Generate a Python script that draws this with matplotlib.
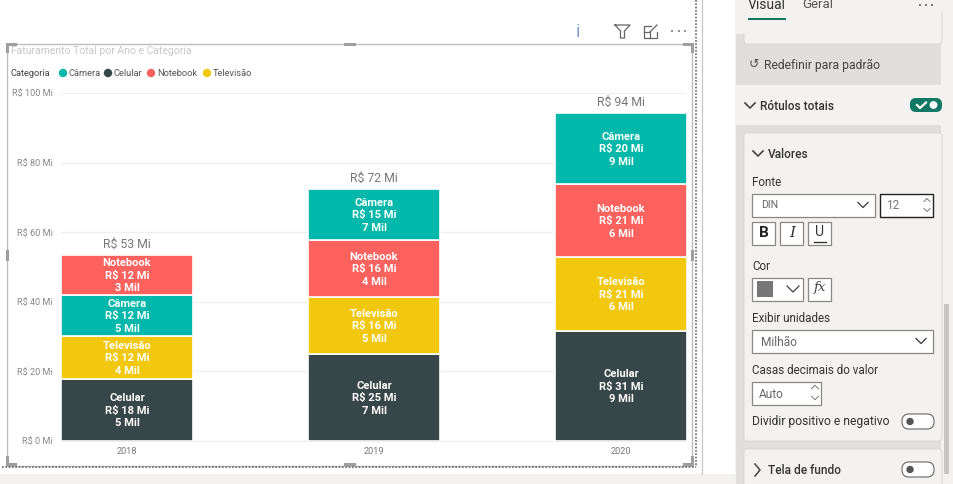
import matplotlib
matplotlib.use('Agg')
import matplotlib.pyplot as plt
from matplotlib.patches import Rectangle, FancyBboxPatch, Circle

# data
anos = ['2018', '2019', '2020']
categorias = ['Câmera', 'Celular', 'Notebook', 'Televisão']
cores = {'Câmera': '#01B8AA', 'Celular': '#374649', 'Notebook': '#FD625E', 'Televisão': '#F2C80F'}
ordem_2018 = ['Celular', 'Televisão', 'Câmera', 'Notebook']
ordem_2019 = ['Celular', 'Televisão', 'Notebook', 'Câmera']
ordem_2020 = ['Celular', 'Televisão', 'Notebook', 'Câmera']
fat_2018 = [17.8, 12.4, 11.8, 11.5]
fat_2019 = [25.0, 16.4, 16.4, 14.6]
fat_2020 = [31.6, 21.3, 21.0, 20.4]
qtd_2018 = ['5 Mil', '4 Mil', '5 Mil', '3 Mil']
qtd_2019 = ['7 Mil', '5 Mil', '4 Mil', '7 Mil']
qtd_2020 = ['9 Mil', '6 Mil', '6 Mil', '9 Mil']
lab_2018 = ['R$ 18 Mi', 'R$ 12 Mi', 'R$ 12 Mi', 'R$ 12 Mi']
lab_2019 = ['R$ 25 Mi', 'R$ 16 Mi', 'R$ 16 Mi', 'R$ 15 Mi']
lab_2020 = ['R$ 31 Mi', 'R$ 21 Mi', 'R$ 21 Mi', 'R$ 20 Mi']
totais = ['R$ 53 Mi', 'R$ 72 Mi', 'R$ 94 Mi']
yticks = [0, 20, 40, 60, 80, 100]
yticklabels = ['R$ 0 Mi', 'R$ 20 Mi', 'R$ 40 Mi', 'R$ 60 Mi', 'R$ 80 Mi', 'R$ 100 Mi']

W, H = 954, 484
plt.rcParams['font.family'] = ['Roboto', 'DejaVu Sans']
fig = plt.figure(figsize=(W / 100, H / 100), dpi=100, facecolor='white')

# overlay in pixel coords for the Power BI chrome
bg = fig.add_axes([0, 0, 1, 1], zorder=0)
bg.set_xlim(0, W)
bg.set_ylim(H, 0)
bg.axis('off')

# main chart
ax = fig.add_axes([61 / W, 1 - 441 / H, 626 / W, 348 / H], zorder=2)
ax.patch.set_alpha(0)
ax.set_xlim(-0.267, 2.267)
ax.set_ylim(0, 100)
for s in ax.spines.values():
    s.set_visible(False)
ax.spines['bottom'].set_visible(True)
ax.spines['bottom'].set_color('#EEEEEE')
ax.set_yticks(yticks)
ax.set_yticklabels(yticklabels, fontsize=6.6, color='#888888')
ax.set_xticks(range(3))
ax.set_xticklabels(anos, fontsize=6.6, color='#777777')
ax.tick_params(length=0, pad=4)
ax.tick_params(axis='y', pad=6)
ax.grid(axis='y', color='#F0F0F0', lw=1)
ax.set_axisbelow(True)

ordens = [ordem_2018, ordem_2019, ordem_2020]
fats = [fat_2018, fat_2019, fat_2020]
qtds = [qtd_2018, qtd_2019, qtd_2020]
labs = [lab_2018, lab_2019, lab_2020]
for i in range(3):
    base = 0
    for cat, v, q, l in zip(ordens[i], fats[i], qtds[i], labs[i]):
        ax.bar(i, v, 0.534, bottom=base, color=cores[cat], edgecolor='white', lw=1.2)
        ax.text(i, base + v / 2 - 0.2, cat + '\n' + l + '\n' + q, ha='center', va='center',
                color='white', fontsize=8, fontweight='bold', linespacing=1.3)
        base += v
    ax.text(i, base + 1.1, totais[i], ha='center', va='bottom', fontsize=8.8, color='#777777')

# visual frame
bg.add_patch(Rectangle((7.5, 43.5), 685, 422, fill=False, ec='#BDBDBD', lw=1))
for x, y, w, h in [(6, 43, 11, 3), (6, 43, 3, 10), (344, 43, 12, 3), (683, 43, 11, 3), (691, 43, 3, 10),
                   (6, 250, 3, 11), (691, 250, 3, 11), (6, 463, 11, 3), (6, 456, 3, 10), (344, 463, 12, 3),
                   (683, 463, 11, 3), (691, 456, 3, 10)]:
    bg.add_patch(Rectangle((x, y), w, h, color='#9E9E9E', lw=0))
bg.text(11, 50.5, 'Faturamento Total por Ano e Categoria', fontsize=7.5, color='#C8C8C8', va='center')

# legend
bg.text(11, 73.5, 'Categoria', fontsize=6.7, color='#444444', va='center')
leg_x = [63, 108, 151, 207]
for cat, x in zip(categorias, leg_x):
    bg.add_patch(Circle((x, 73), 4.2, color=cores[cat], lw=0))
    bg.text(x + 6, 73.5, cat, fontsize=6.7, color='#555555', va='center')

# header icons
bg.text(578, 32, 'i', fontsize=13, color='#7C9CC8', ha='center', va='center')
bg.plot([615, 630, 624.5, 624.5, 620.5, 620.5, 615], [25, 25, 31, 38, 38, 31, 25], color='#666666', lw=0.9)
bg.plot([651, 644, 644, 657, 657], [26, 26, 38, 38, 32], color='#666666', lw=0.9)
bg.plot([644, 650, 650], [32, 32, 38], color='#666666', lw=0.9)
bg.plot([650, 657], [32, 25], color='#666666', lw=0.9)
for x in [672, 679, 685]:
    bg.add_patch(Circle((x, 31), 0.9, color='#555555', lw=0))

# dotted page edge and separators
bg.plot([2, 696], [467, 467], color='#666666', lw=1.2, ls=(0, (1, 1)))
bg.plot([696, 696], [0, 467], color='#666666', lw=1.2, ls=(0, (1, 1)))
bg.plot([702.5, 702.5], [0, 474], color='#C8C8C8', lw=0.9)
bg.add_patch(Rectangle((0, 474), 736, 10, color='#F3F2F1', lw=0))

# right pane
bg.add_patch(Rectangle((735, 0), 219, 484, color='#F3F2F1', lw=0))
bg.add_patch(Rectangle((736, 34), 205, 51, color='#E1DFDD', lw=0))
bg.add_patch(Rectangle((736, 125), 205, 359, color='#E1DFDD', lw=0))
bg.add_patch(Rectangle((736, 85), 205, 40, color='#F3F2F1', lw=0))
bg.add_patch(Rectangle((942, 0), 12, 484, color='#F3F2F1', lw=0))
bg.add_patch(Rectangle((944, 304), 5, 170, color='#C8C6C4', lw=0))


def card(x, y, w, h):
    bg.add_patch(FancyBboxPatch((x + 3, y + 3), w - 6, h - 6, boxstyle='round,pad=3', fc='#F3F2F1', ec='#D8D6D4', lw=0.6))


def box(x, y, w, h, ec='#8A8886', fc='white', lw=0.9):
    bg.add_patch(Rectangle((x + 0.5, y + 0.5), w, h, fc=fc, ec=ec, lw=lw))


def chevron(x, y, s=5, up=False, c='#444444', lw=1):
    d = -1 if up else 1
    bg.plot([x - s, x, x + s], [y - d * s / 2, y + d * s / 2, y - d * s / 2], color=c, lw=lw)


def toggle(x, y):
    bg.add_patch(FancyBboxPatch((x + 7, y + 7), 18, 1, boxstyle='round,pad=7', fc='white', ec='#666666', lw=0.8))
    bg.add_patch(Circle((x + 8, y + 7.5), 3.7, color='#555555', lw=0))


card(744, 10, 198, 34)
card(744, 133, 198, 308)
card(744, 449, 198, 40)
bg.add_patch(Rectangle((736, 0), 205, 34, color='#F3F2F1', lw=0))

txt = dict(color='#333333', va='center')
bg.text(748, 5, 'Visual', fontsize=10, **txt)
bg.text(802, 5, 'Geral', fontsize=9.5, color='#555555', va='center')
bg.add_patch(Rectangle((748, 18), 38, 2, color='#117865', lw=0))
for x in [920, 926, 932]:
    bg.add_patch(Circle((x, 5), 0.9, color='#333333', lw=0))
bg.text(749, 64, '↺', fontsize=9, color='#555555', va='center', family='DejaVu Sans')
bg.text(764, 65, 'Redefinir para padrão', fontsize=8.7, color='#444444', va='center')

chevron(750, 105.5, 5, lw=1.2)
bg.text(760, 106.5, 'Rótulos totais', fontsize=8.6, fontweight='medium', **txt)
bg.add_patch(FancyBboxPatch((916, 104), 20, 2, boxstyle='round,pad=6', fc='#117865', ec='none'))
bg.plot([917, 920, 926], [105, 108, 102.5], color='white', lw=1.6)
bg.add_patch(Circle((933.5, 105), 3.9, color='white', lw=0))

chevron(758, 153.5, 5, lw=1.2)
bg.text(768, 154, 'Valores', fontsize=8.6, fontweight='medium', **txt)
bg.text(752, 182.5, 'Fonte', fontsize=8.4, **txt)
box(752, 193, 123, 23)
bg.text(761, 205.5, 'DIN', fontsize=7.6, color='#666666', va='center')
chevron(863, 205, 5)
box(880, 193, 53, 23, ec='#222222', lw=1)
bg.text(886, 205.5, '12', fontsize=8.6, color='#777777', va='center')
chevron(927, 200, 3, up=True, c='#777777', lw=0.7)
chevron(927, 210, 3, c='#777777', lw=0.7)

box(752, 221, 23, 23)
bg.text(764, 233, 'B', fontsize=11, fontweight='bold', color='#222222', ha='center', va='center')
box(780, 221, 23, 23)
bg.text(792, 233, 'I', fontsize=11, style='italic', family='DejaVu Serif', color='#333333', ha='center', va='center')
box(808, 221, 23, 23)
bg.text(820, 232, 'U', fontsize=10, color='#333333', ha='center', va='center')
bg.plot([814, 826], [242, 242], color='#333333', lw=1)

bg.text(752, 266, 'Cor', fontsize=8.4, **txt)
box(752, 277, 51, 23)
bg.add_patch(Rectangle((757, 281), 16, 16, color='#777777', lw=0))
bg.plot([787, 793, 799], [286, 292, 286], color='#444444', lw=0.9)
box(808, 277, 23, 23)
bg.text(820, 288, 'fx', fontsize=9.5, style='italic', family='DejaVu Serif', color='#444444', ha='center', va='center')

bg.text(752, 318, 'Exibir unidades', fontsize=8.4, **txt)
box(752, 329, 181, 23)
bg.text(761, 342, 'Milhão', fontsize=8.6, color='#666666', va='center')
chevron(921, 341, 5)
bg.text(752, 370, 'Casas decimais do valor', fontsize=8.4, **txt)
box(752, 381, 69, 23)
bg.text(759, 394, 'Auto', fontsize=8.6, color='#666666', va='center')
chevron(815, 387, 3.5, up=True, c='#777777', lw=0.7)
chevron(815, 398, 3.5, c='#777777', lw=0.7)
bg.text(752, 422, 'Dividir positivo e negativo', fontsize=8.7, **txt)
toggle(902, 414)

bg.plot([755, 760, 755], [464, 470, 476], color='#444444', lw=1.1)
bg.text(768, 470, 'Tela de fundo', fontsize=8.6, fontweight='medium', **txt)
toggle(902, 462)

fig.savefig('out.png', dpi=100, facecolor='white')
